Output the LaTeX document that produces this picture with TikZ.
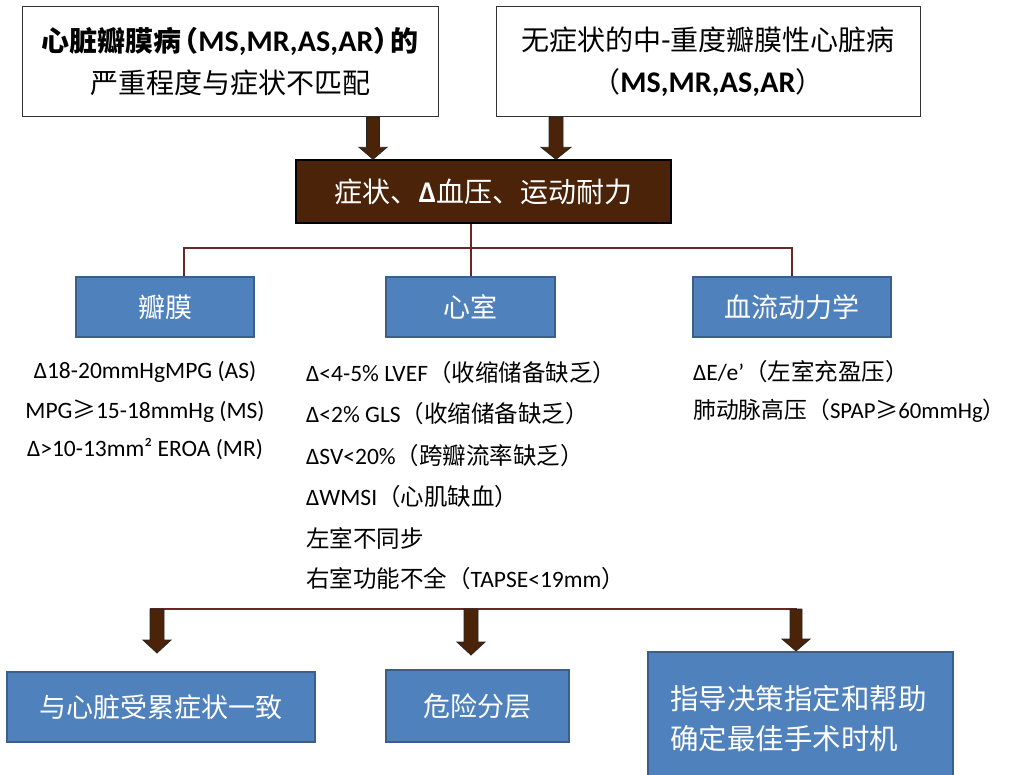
\documentclass[tikz,border=0pt]{standalone}
\usepackage{fontspec}
\setmainfont{Carlito}
\newfontfamily\cjk{Noto Sans CJK SC}
\usetikzlibrary{calc}
\definecolor{brownfill}{HTML}{4A2308}
\definecolor{linecol}{HTML}{6B2626}
\definecolor{bluefill}{HTML}{4F81BD}
\definecolor{blueedge}{HTML}{3A5F8B}
\newcommand\zh[1]{{\cjk #1}}
\newcommand\lpar[1]{\makebox[#1][r]{\cjk （}}
\newcommand\rpar[1]{\makebox[#1][l]{\cjk ）}}
\newcommand\blockarr[5]{%
  \filldraw[arrowfill] let \p1=(#1), \p2=(#2) in
  (\x1-#3pt,\y1) -- (\x1+#3pt,\y1) -- (\x1+#3pt,\y2+#5pt) -- (\x1+#4pt,\y2+#5pt)
  -- (\x1,\y2) -- (\x1-#4pt,\y2+#5pt) -- (\x1-#3pt,\y2+#5pt) -- cycle;}
\tikzset{
  topbox/.style={draw=black!80, line width=1pt, fill=white, align=center, inner sep=0pt,
    font=\fontsize{28pt}{42pt}\selectfont},
  brownbox/.style={draw=black, line width=1.5pt, fill=brownfill, text=white, inner sep=0pt,
    font=\fontsize{28pt}{34pt}\selectfont},
  bluebox/.style={draw=blueedge, line width=2pt, fill=bluefill, text=white, inner sep=0pt,
    font=\cjk\fontsize{27pt}{40pt}\selectfont},
  conn/.style={draw=linecol, line width=2pt},
  arrowfill/.style={fill=brownfill, draw=black!85, line width=0.8pt},
  listtxt/.style={inner sep=0pt, text=black, font=\fontsize{23.5pt}{28pt}\selectfont},
}
\begin{document}
\begin{tikzpicture}[x=1pt,y=-1pt]
\useasboundingbox (0,0) rectangle (1009,774);

% top boxes
\node[topbox, minimum width=416pt, minimum height=110pt] (tl) at (230,61.5)
  {\zh{\bfseries 心脏瓣膜病}{\bfseries\lpar{17pt}}{\fontsize{30pt}{42pt}\selectfont\bfseries MS,MR,AS,AR}{\bfseries\rpar{17pt}}\zh{\bfseries 的}\\
   \zh{严重程度与症状不匹配}};
\node[topbox, minimum width=424pt, minimum height=110pt] (tr) at (708,61.5)
  {\zh{无症状的中}{\fontsize{30pt}{42pt}\selectfont -}\zh{重度瓣膜性心脏病}\\
   \lpar{18pt}{\fontsize{30pt}{42pt}\selectfont\bfseries MS,MR,AS,AR}\rpar{18pt}};

% central brown box
\node[brownbox, minimum width=375pt, minimum height=63pt] (brown) at (483.5,191.5)
  {\zh{症状、}{\fontsize{30pt}{34pt}\selectfont\bfseries Δ}\zh{血压、运动耐力}};

% second-level boxes
\node[bluebox, minimum width=178pt, minimum height=60pt] (valve) at (165,307) {瓣膜};
\node[bluebox, minimum width=169pt, minimum height=60pt] (vent) at (470.5,307) {心室};
\node[bluebox, minimum width=198pt, minimum height=60pt] (hemo) at (792,307) {血流动力学};

% bottom boxes
\node[bluebox, minimum width=308pt, minimum height=70pt] (b1) at (161,707) {与心脏受累症状一致};
\node[bluebox, minimum width=183pt, minimum height=72pt] (b2) at (477.5,706) {危险分层};
\node[bluebox, minimum width=305pt, minimum height=124pt, text width=261pt, inner xsep=22pt,
      align=left, font=\cjk\fontsize{28.5pt}{40pt}\selectfont] (b3) at (800.5,714)
  {\raisebox{-5pt}[\height][\depth]{\parbox{261pt}{指导决策指定和帮助\\确定最佳手术时机}}};

% lists
\node[listtxt] (l1) at (145,372) {Δ18-20mmHgMPG (AS)};
\node[listtxt] (l2) at (145,411) {MPG\zh{≥}15-18mmHg (MS)};
\node[listtxt] (l3) at (145,449) {Δ>10-13mm² EROA (MR)};

\node[listtxt, anchor=west] (m1) at (306,373) {Δ<4-5\% LVEF\zh{（收缩储备缺乏）}};
\node[listtxt, anchor=west] (m2) at (306,414) {Δ<2\% GLS\zh{（收缩储备缺乏）}};
\node[listtxt, anchor=west] (m3) at (306,456) {ΔSV<20\%\zh{（跨瓣流率缺乏）}};
\node[listtxt, anchor=west] (m4) at (306,497) {ΔWMSI\zh{（心肌缺血）}};
\node[listtxt, anchor=west] (m5) at (306,538) {\zh{左室不同步}};
\node[listtxt, anchor=west] (m6) at (306,579) {\zh{右室功能不全（}TAPSE<19mm\zh{）}};

\node[listtxt, anchor=west] (r1) at (693,372) {ΔE/e’\zh{（左室充盈压）}};
\node[listtxt, anchor=west, font=\fontsize{22.8pt}{28pt}\selectfont] (r2) at (693,411)
  {\zh{肺动脉高压（}SPAP\zh{≥}60mmHg\rpar{10pt}};

% connectors (tree lines)
\coordinate (bar) at (470,248);
\draw[conn] (vent.north) -- (vent.north |- brown.south);
\draw[conn] ([xshift=19pt]valve.north) |- (bar) -| (hemo.north);

\coordinate (bl) at (150,609);
\coordinate (br) at (797,609);
\draw[conn] (bl) -- (br);

% block arrows
\coordinate (a1s) at (373,0 |- tl.south);
\coordinate (a1e) at (373,0 |- brown.north);
\coordinate (a2s) at (556,0 |- tr.south);
\coordinate (a2e) at (556,0 |- brown.north);
\blockarr{a1s}{a1e}{6.5}{14}{12}
\blockarr{a2s}{a2e}{7}{15}{12}

\coordinate (d1s) at (157,0 |- bl);
\coordinate (d1e) at (157,653);
\coordinate (d2s) at (471,0 |- bl);
\coordinate (d2e) at (471,655);
\coordinate (d3s) at (796,0 |- br);
\coordinate (d3e) at (796,0 |- b3.north);
\blockarr{d1s}{d1e}{7}{14}{13}
\blockarr{d2s}{d2e}{7}{14}{13}
\blockarr{d3s}{d3e}{6}{14}{12}
\end{tikzpicture}
\end{document}
